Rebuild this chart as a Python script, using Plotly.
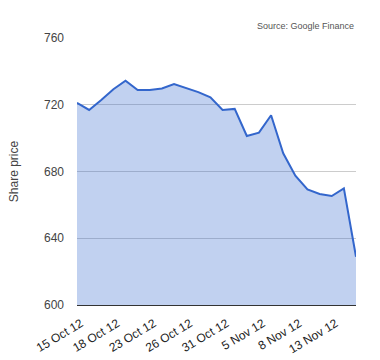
import plotly.graph_objects as go

dates = ["15 Oct 12", "16 Oct 12", "17 Oct 12", "18 Oct 12", "19 Oct 12", "22 Oct 12",
         "23 Oct 12", "24 Oct 12", "25 Oct 12", "26 Oct 12", "29 Oct 12", "30 Oct 12",
         "31 Oct 12", "1 Nov 12", "2 Nov 12", "5 Nov 12", "6 Nov 12", "7 Nov 12",
         "8 Nov 12", "9 Nov 12", "12 Nov 12", "13 Nov 12", "14 Nov 12", "15 Nov 12"]
prices = [721.2, 716.9, 722.8, 729.3, 734.4, 728.8, 728.8, 729.8, 732.4, 730.2, 727.6, 724.5,
          716.9, 717.5, 701.3, 703.3, 713.7, 690.9, 677.5, 669.3, 666.5, 665.3, 669.9, 628.9]
tick_every = 3
y_ticks = [600, 640, 680, 720, 760]

idx = list(range(len(dates)))
tickvals = idx[::tick_every]
ticktext = dates[::tick_every]

fig = go.Figure()
fig.add_trace(go.Scatter(
    x=idx, y=prices, mode="lines", fill="tozeroy",
    line=dict(color="#3366cc", width=2),
    fillcolor="rgba(51,102,204,0.3)",
    hoverinfo="skip", showlegend=False))

fig.update_layout(
    width=380, height=360,
    margin=dict(l=77, r=24, t=38, b=55),
    paper_bgcolor="white", plot_bgcolor="white",
    font=dict(family="Arial, Liberation Sans, sans-serif", color="#444"),
    xaxis=dict(range=[0, len(dates) - 1], tickvals=tickvals, ticktext=ticktext,
               tickangle=-31, tickfont=dict(size=12, color="#222"), showgrid=False,
               zeroline=False, showline=True, linecolor="#333", linewidth=1, ticks="",
               ticklabelstandoff=6, ticklabelshift=4,
               automargin=False),
    yaxis=dict(range=[600, 760], tickvals=y_ticks, showgrid=True, gridcolor="#cccccc",
               zeroline=False, tickfont=dict(size=12, color="#444"), ticks="",
               automargin=False, ticklabelstandoff=12,
               title=dict(text="Share price", font=dict(size=12, color="#444"), standoff=22)),
    annotations=[dict(text="Source: Google Finance", xref="paper", yref="paper",
                      x=1, y=1, xanchor="right", yanchor="bottom", yshift=5,
                      showarrow=False, font=dict(size=9, color="#555"))],
)
fig.write_html("out.html", config={"displayModeBar": False},
               post_script="document.body.style.margin='0';")
